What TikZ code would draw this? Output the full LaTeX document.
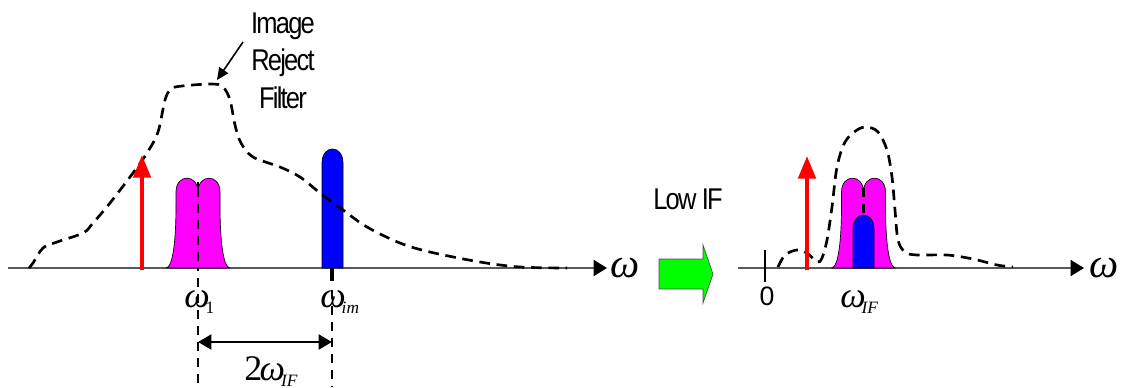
\documentclass[tikz,border=0pt]{standalone}
\usepackage{fontspec}
\setmainfont{Liberation Sans}[LetterSpace=-6,FakeStretch=0.85]
\newfontfamily\omfont{Liberation Serif}
\newfontfamily\digitfont{Liberation Sans}
\usetikzlibrary{positioning,arrows.meta,calc}
\definecolor{sigmag}{RGB}{255,0,255}
\definecolor{sigblue}{RGB}{0,0,255}
\definecolor{sigred}{RGB}{255,0,0}
\definecolor{lowgreen}{RGB}{0,255,0}
\newcommand\om{{\omfont\itshape ω}}
\newcommand\omsub[2]{\om\kern-3pt\raisebox{-5pt}{\omfont#1\fontsize{13}{13}\selectfont#2}}

\begin{document}
\begin{tikzpicture}[x=.75pt,y=-.75pt,
  axis/.style={line width=1.1pt,black!65,-{Triangle[length=10pt,width=12pt,black]}},
  filt/.style={line width=2pt,dash pattern=on 8pt off 5pt},
  guide/.style={line width=1.6pt,dash pattern=on 7pt off 5pt},
  sig/.style={line width=3pt,sigred,-{Triangle[length=17pt,width=13pt]}},
  lbl/.style={inner sep=0pt,anchor=base,font=\fontsize{22.5}{28}\selectfont},
  omlbl/.style={inner sep=0pt,anchor=base west,font=\fontsize{27}{27}\selectfont}]
 \useasboundingbox (0,0) rectangle (1133,387);
 \coordinate (ax0) at (8,268);
 \coordinate (ax1) at (607,268);
 \coordinate (bx0) at (738,268);
 \coordinate (bx1) at (1084,268);
 \draw[axis] (ax0)--(ax1);
 \draw[axis] (bx0)--(bx1);
 \node[omlbl,font=\fontsize{31}{31}\selectfont] (wa) at (610,277) {\om};
 \node[omlbl,font=\fontsize{31}{31}\selectfont] (wb) at (1089,277) {\om};
 \coordinate (t0a) at (765,250);
 \coordinate (t0b) at (765,282);
 \draw[line width=1.5pt] (t0a)--(t0b);
 \node[lbl,font=\digitfont\fontsize{20}{20}\selectfont] (zero) at (767,305) {0};
 \coordinate (g1a) at (198,182);
 \coordinate (g1b) at (198,387);
 \coordinate (gma) at (332,290);
 \coordinate (gmb) at (332,387);
 \coordinate (gmt) at (332,281);
 \draw[guide] (g1a)--(g1b);
 \draw[guide] (gma)--(gmb);
 \foreach \cx in {198,863.5}{
  \filldraw[fill=sigmag,draw=black,line width=.5pt]
   ({\cx-31.5},268) .. controls ({\cx-25},266) and ({\cx-22},240) .. ({\cx-22},205)
   -- ({\cx-22},192) .. controls ({\cx-22},173.5) and (\cx,173.5) .. (\cx,192)
   .. controls (\cx,173.5) and ({\cx+22},173.5) .. ({\cx+22},192)
   -- ({\cx+22},205) .. controls ({\cx+22},240) and ({\cx+25},266) .. ({\cx+31.5},268)
   -- cycle;
 }
 \draw[guide] (198,188)--(198,268);
 \coordinate (g2a) at (863.5,188);
 \coordinate (g2b) at (863.5,216);
 \draw[guide] (g2a)--(g2b);
 \foreach \bx/\tp in {332.5/149,863.5/215}{
  \filldraw[fill=sigblue,draw=black,line width=.5pt]
   ({\bx-10.5},268) -- ({\bx-10.5},{\tp+14})
   .. controls ({\bx-10.5},{\tp-4.7}) and ({\bx+10.5},{\tp-4.7}) .. ({\bx+10.5},{\tp+14})
   -- ({\bx+10.5},268) -- cycle;
 }
 \draw[line width=2.4pt] (332,268)--(gmt);
 \draw[filt] plot[smooth,tension=.55] coordinates {(29,268) (33,263) (43,248) (57,242)
   (83,233) (93,223) (110,203) (133,173) (147,153) (158,132) (165,100) (171,89)
   (182,86) (212,84) (223,87) (230,100) (235,125) (241,143) (253,157) (280,167)
   (300,177) (320,193) (343,210) (367,227) (400,243) (430,252) (480,262) (520,267) (567,268)};
 \draw[filt] plot[smooth,tension=.55] coordinates {(778,267) (785,255) (797,250)
   (807,253) (817,262) (822,258) (827,240) (832,207) (837,167) (845,142) (857,130)
   (867,127) (878,132) (887,150) (892,177) (895,210) (898,240) (905,252) (917,255)
   (947,255) (973,259) (997,265) (1013,267)};
 \coordinate (r1a) at (142,270);
 \coordinate (r1b) at (142,155);
 \coordinate (r2a) at (807,270);
 \coordinate (r2b) at (807,156);
 \draw[sig] (r1a)--(r1b);
 \draw[sig] (r2a)--(r2b);
 \node[omlbl] (w1) at (184,307) {\omsub{\upshape}{1}};
 \node[omlbl] (wim) at (320,307) {\omsub{\itshape}{im}};
 \node[omlbl] (wif) at (840,307) {\omsub{\itshape}{IF}};
 \coordinate (d1) at (198,342);
 \coordinate (d2) at (332,342);
 \draw[line width=2.2pt,{Triangle[length=10pt,width=11pt]}-{Triangle[length=10pt,width=11pt]}] (d1)--(d2);
 \node[omlbl] (w2if) at (244,380) {{\omfont 2}\kern-2pt\omsub{\itshape}{IF}};
 \node[lbl,align=center] (irf) at (283,108) {Image\\Reject\\Filter};
 \coordinate (ptrs) at (243,42);
 \coordinate (ptre) at (217,80);
 \draw[line width=1.2pt,-{Triangle[length=9pt,width=8pt]}] (ptrs)--(ptre);
 \node[lbl] (lowif) at (688,209) {Low IF};
 \filldraw[fill=lowgreen,draw=black!70,line width=.5pt] (659,259) -- (703,259) -- (703,245)
   -- (713,274) -- (703,303) -- (703,289) -- (659,289) -- cycle;
\end{tikzpicture}
\end{document}
